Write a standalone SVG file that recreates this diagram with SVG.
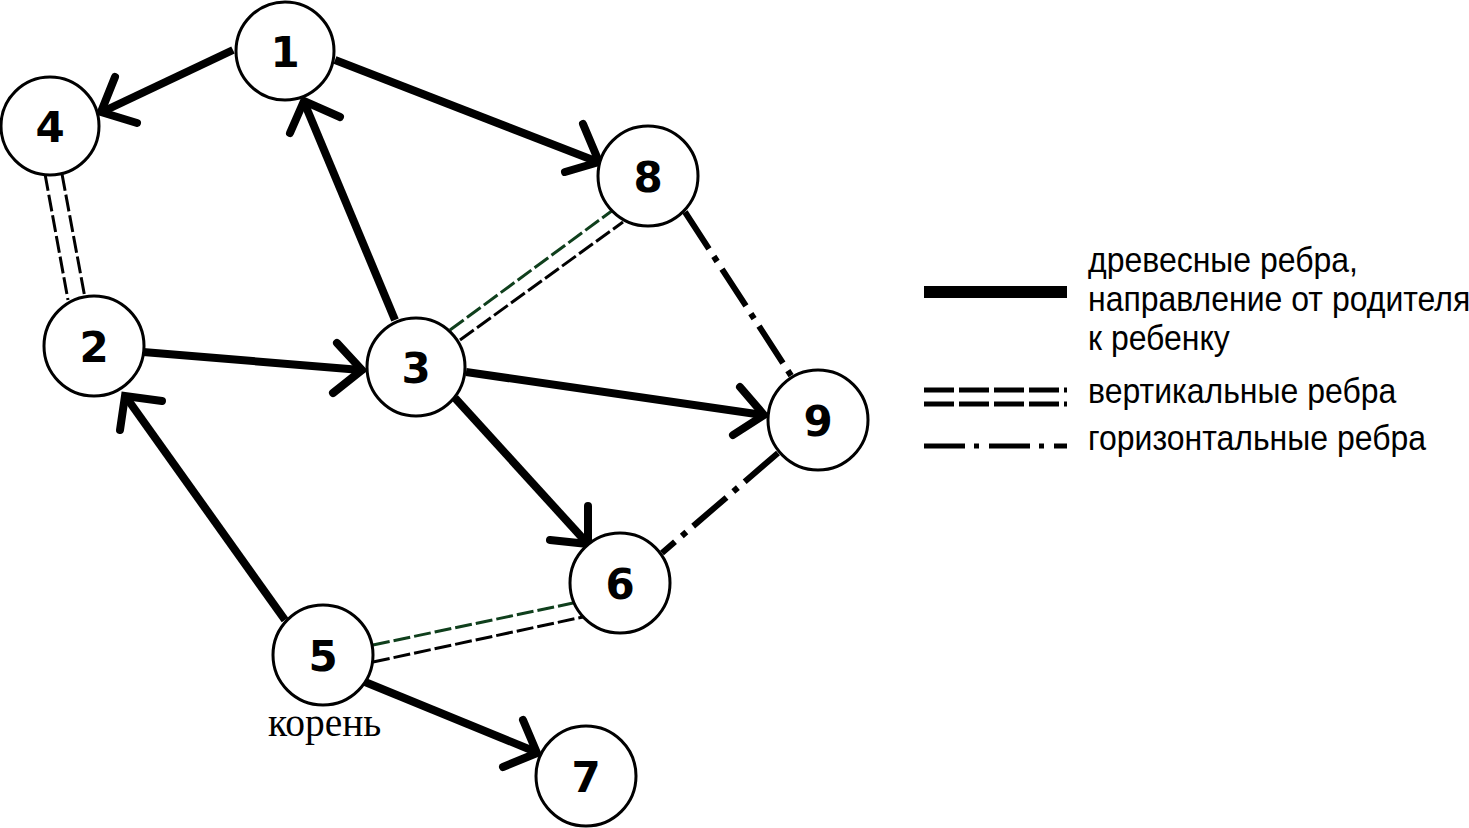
<svg xmlns="http://www.w3.org/2000/svg" width="1469" height="828" viewBox="0 0 1469 828">
<style>
.node circle{fill:#fff;stroke:#000;stroke-width:3}
.node text{font-family:"DejaVu Sans",sans-serif;font-weight:bold;font-size:42px;text-anchor:middle;fill:#000}
.tree{stroke:#000;stroke-width:8;fill:none;stroke-linecap:butt}
.head{stroke:#000;stroke-width:8;fill:none;stroke-linecap:round;stroke-linejoin:miter}
.vb{stroke:#000;stroke-width:3;fill:none;stroke-dasharray:17 4}
.vg{stroke:#0f3f1c;stroke-width:3;fill:none;stroke-dasharray:17 4}
.hz{stroke:#000;stroke-width:6;fill:none;stroke-dasharray:44 9 6 9}
.leg{font-family:"Liberation Sans",Arial,sans-serif;font-size:32px;fill:#000}
</style>
<rect width="1469" height="828" fill="#fff"/>
<g id="connectors">
  <!-- tree edges -->
  <line class="tree" x1="233" y1="50" x2="102" y2="112"/>
  <polyline class="head" points="115,77 101,112 137,123"/>
  <line class="tree" x1="335" y1="60" x2="598" y2="162"/>
  <polyline class="head" points="583,124 599,162 565,172"/>
  <line class="tree" x1="395" y1="320" x2="304" y2="102"/>
  <polyline class="head" points="290,133 304,101 340,117"/>
  <line class="tree" x1="143" y1="352" x2="361" y2="370"/>
  <polyline class="head" points="337,343 362,370 333,393"/>
  <line class="tree" x1="466" y1="372" x2="763" y2="415"/>
  <polyline class="head" points="740,387 764,415 733,435"/>
  <line class="tree" x1="455" y1="398" x2="587" y2="543"/>
  <polyline class="head" points="588,506 588,544 550,540"/>
  <line class="tree" x1="285" y1="620" x2="126" y2="397"/>
  <polyline class="head" points="120,430 125,396 162,401"/>
  <line class="tree" x1="365" y1="682" x2="536" y2="752"/>
  <polyline class="head" points="523,720 537,753 503,767"/>
  <!-- vertical edges -->
  <line class="vb" x1="45" y1="174" x2="68" y2="300"/>
  <line class="vb" x1="62" y1="174" x2="85" y2="298"/>
  <line class="vg" x1="450" y1="330" x2="613" y2="210"/>
  <line class="vb" x1="460" y1="340" x2="623" y2="222"/>
  <line class="vg" x1="373" y1="645" x2="573" y2="603"/>
  <line class="vb" x1="373" y1="662" x2="583" y2="617"/>
  <!-- horizontal edges -->
  <line class="hz" x1="685" y1="212" x2="792" y2="377"/>
  <line class="hz" x1="778" y1="453" x2="662" y2="553"/>
</g>
<g id="node1" class="node"><circle cx="285" cy="51" r="49"/><text x="285" y="67">1</text></g>
<g id="node4" class="node"><circle cx="50" cy="126" r="49"/><text x="50" y="142">4</text></g>
<g id="node8" class="node"><circle cx="648" cy="176" r="50"/><text x="648" y="192">8</text></g>
<g id="node2" class="node"><circle cx="94" cy="346" r="50"/><text x="94" y="362">2</text></g>
<g id="node3" class="node"><circle cx="416" cy="367" r="49"/><text x="416" y="383">3</text></g>
<g id="node9" class="node"><circle cx="818" cy="420" r="50"/><text x="818" y="436">9</text></g>
<g id="node6" class="node"><circle cx="620" cy="583" r="50"/><text x="620" y="599">6</text></g>
<g id="node5" class="node"><circle cx="323" cy="655" r="50"/><text x="323" y="671">5</text></g>
<g id="node7" class="node"><circle cx="586" cy="776" r="50"/><text x="586" y="792">7</text></g>
<text x="268" y="736" font-family="'Liberation Serif','Times New Roman',serif" font-size="39.5px" fill="#000">корень</text>
<g id="legend">
  <rect x="924" y="286" width="143" height="12" fill="#000"/>
  <line x1="924" y1="390" x2="1067" y2="390" stroke="#000" stroke-width="5" stroke-dasharray="30 5"/>
  <line x1="924" y1="404" x2="1067" y2="404" stroke="#000" stroke-width="5" stroke-dasharray="30 5"/>
  <line x1="924" y1="446" x2="1067" y2="446" stroke="#000" stroke-width="5" stroke-dasharray="41 9 5 10"/>
  <text class="leg" transform="translate(1088,272) scale(1,1.1)">древесные ребра,</text>
  <text class="leg" transform="translate(1088,311) scale(1,1.1)">направление от родителя</text>
  <text class="leg" transform="translate(1088,350) scale(1,1.1)">к ребенку</text>
  <text class="leg" transform="translate(1088,403) scale(1,1.1)">вертикальные ребра</text>
  <text class="leg" transform="translate(1088,450) scale(1,1.1)">горизонтальные ребра</text>
</g>
</svg>
